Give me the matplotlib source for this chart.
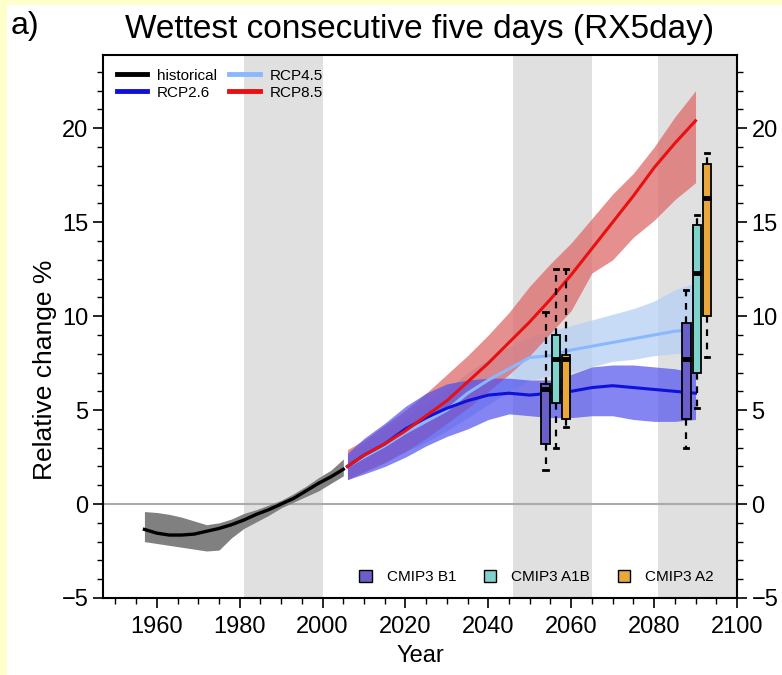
import numpy as np
import matplotlib.pyplot as plt
from matplotlib.patches import Rectangle, Patch
from matplotlib.lines import Line2D

plt.rcParams['font.family'] = ['Liberation Sans', 'DejaVu Sans']

# historical ensemble (20-yr running mean, % change)
hist_years = [1957, 1960, 1963, 1966, 1969, 1972, 1975, 1978, 1981, 1984, 1987, 1990, 1993, 1996, 1999, 2002, 2005]
hist_mean = [-1.35, -1.55, -1.65, -1.65, -1.6, -1.45, -1.3, -1.1, -0.85, -0.55, -0.3, 0.0, 0.3, 0.7, 1.1, 1.45, 1.85]
hist_lo = [-2.0, -2.1, -2.2, -2.3, -2.4, -2.5, -2.45, -1.8, -1.3, -0.95, -0.6, -0.2, 0.1, 0.4, 0.7, 1.1, 1.5]
hist_hi = [-0.4, -0.45, -0.55, -0.7, -0.9, -1.1, -1.0, -0.8, -0.5, -0.3, -0.05, 0.2, 0.55, 0.95, 1.4, 1.8, 2.4]

# scenario ensembles
fut_years = [2006, 2010, 2015, 2020, 2025, 2030, 2035, 2040, 2045, 2050, 2055, 2060, 2065, 2070, 2075, 2080, 2085, 2090]

rcp26_mean = [2.0, 2.6, 3.2, 4.0, 4.6, 5.1, 5.5, 5.8, 5.9, 5.8, 5.9, 6.0, 6.2, 6.3, 6.2, 6.1, 6.0, 5.9]
rcp26_lo = [1.3, 1.6, 2.0, 2.5, 3.1, 3.6, 4.0, 4.5, 4.8, 4.7, 4.6, 4.6, 4.7, 4.7, 4.5, 4.4, 4.4, 4.5]
rcp26_hi = [2.7, 3.5, 4.3, 5.2, 5.9, 6.4, 6.6, 6.7, 6.7, 6.6, 6.6, 6.9, 7.3, 7.4, 7.4, 7.3, 7.2, 7.0]

rcp45_mean = [2.0, 2.5, 3.1, 3.8, 4.4, 5.0, 5.9, 6.6, 7.2, 7.8, 7.9, 8.2, 8.4, 8.6, 8.8, 9.0, 9.2, 9.3]
rcp45_lo = [1.4, 1.8, 2.3, 2.8, 3.3, 3.9, 4.6, 5.3, 6.0, 6.6, 6.8, 7.0, 7.3, 7.6, 7.7, 7.9, 8.0, 8.1]
rcp45_hi = [2.6, 3.2, 4.0, 4.7, 5.4, 6.1, 7.0, 7.7, 8.4, 8.9, 9.2, 9.5, 9.8, 10.1, 10.4, 10.8, 11.4, 11.8]

rcp85_mean = [2.0, 2.6, 3.2, 3.9, 4.7, 5.5, 6.5, 7.5, 8.6, 9.7, 10.9, 12.2, 13.6, 15.0, 16.4, 17.9, 19.2, 20.4]
rcp85_lo = [1.3, 1.7, 2.2, 2.8, 3.5, 4.3, 5.1, 6.0, 6.9, 7.9, 9.1, 10.3, 12.3, 13.0, 14.2, 15.1, 16.2, 17.1]
rcp85_hi = [2.9, 3.4, 4.2, 5.0, 5.9, 6.9, 7.9, 9.0, 10.2, 11.6, 12.8, 13.9, 15.2, 16.5, 17.6, 19.0, 20.6, 22.0]

# CMIP3 box statistics: whislo, q1, median, q3, whishi
cmip3_names = ['CMIP3 B1', 'CMIP3 A1B', 'CMIP3 A2']
cmip3_colors = ['#6a5fc8', '#7fd3cc', '#e8a83a']
pos_mid = [2053.8, 2056.3, 2058.8]
pos_end = [2087.8, 2090.3, 2092.8]
stats_mid = [
    [1.8, 3.2, 6.1, 6.4, 10.2],
    [3.0, 5.4, 7.7, 9.0, 12.5],
    [4.1, 4.5, 7.7, 7.95, 12.5],
]
stats_end = [
    [3.0, 4.5, 7.7, 9.65, 11.4],
    [5.1, 7.0, 12.3, 14.85, 15.4],
    [7.8, 10.0, 16.3, 18.1, 18.7],
]

shade_periods = [(1981, 2000), (2046, 2065), (2081, 2100)]

fig = plt.figure(figsize=(7.82, 6.75), dpi=100, facecolor='#ffffcc')
fig.patches.append(Rectangle((7 / 782, 0), 1, 1 - 5 / 675, transform=fig.transFigure,
                             facecolor='white', edgecolor='none', zorder=-10))
ax = fig.add_axes([0.1317, 0.1141, 0.8107, 0.8044])

for a, b in shade_periods:
    ax.axvspan(a, b, color='#e0e0e0', lw=0, zorder=0)
ax.axhline(0, color='#aaaaaa', lw=1.5, zorder=1)

ax.fill_between(hist_years, hist_lo, hist_hi, color='#808080', lw=0, zorder=2)
ax.fill_between(fut_years, rcp45_lo, rcp45_hi, color='#b9d2f5', alpha=0.8, lw=0, zorder=2)
ax.fill_between(fut_years, rcp85_lo, rcp85_hi, color='#dd6a6a', alpha=0.75, lw=0, zorder=2)
ax.fill_between(fut_years, rcp26_lo, rcp26_hi, color='#5050ee', alpha=0.7, lw=0, zorder=2)

ax.plot(hist_years, hist_mean, color='black', lw=2.4, zorder=3)
ax.plot(fut_years, rcp45_mean, color='#8ab8ff', lw=2.2, zorder=3)
ax.plot(fut_years, rcp26_mean, color='#1010dd', lw=2.2, zorder=3)
ax.plot(fut_years, rcp85_mean, color='#e81010', lw=2.2, zorder=3)

# CMIP3 boxes
for pos, stats in [(pos_mid, stats_mid), (pos_end, stats_end)]:
    bxp = [dict(whislo=s[0], q1=s[1], med=s[2], q3=s[3], whishi=s[4], fliers=[]) for s in stats]
    bp = ax.bxp(bxp, positions=pos, widths=2.0, patch_artist=True, manage_ticks=False,
                showfliers=False,
                whiskerprops=dict(color='black', lw=1.6, ls=(0, (3, 3))),
                capprops=dict(color='black', lw=2),
                medianprops=dict(color='black', lw=3.5),
                boxprops=dict(edgecolor='black', lw=1.3))
    for patch, c in zip(bp['boxes'], cmip3_colors):
        patch.set_facecolor(c)
    for k in bp:
        for art in bp[k]:
            art.set_zorder(4)

ax.set_xlim(1947, 2100)
ax.set_ylim(-5, 23.9)
ax.set_xticks(range(1960, 2101, 20))
ax.set_xticks(range(1950, 2101, 5), minor=True)
ax.set_yticks(range(-5, 21, 5))
ax.set_yticks(range(-5, 24, 1), minor=True)
ax.tick_params(axis='both', which='major', length=7, width=1.2, labelsize=17, direction='out')
ax.tick_params(axis='both', which='minor', length=4, width=1, direction='out')
ax.tick_params(axis='y', which='both', right=True, labelright=True)
ax.tick_params(axis='x', pad=6)
for s in ax.spines.values():
    s.set_linewidth(1.5)

ax.set_xlabel('Year', fontsize=17, labelpad=5)
ax.set_ylabel('Relative change %', fontsize=19)
ax.yaxis.set_label_coords(-0.072, 0.42)
ax.set_title('Wettest consecutive five days (RX5day)', fontsize=24, pad=12)
fig.text(0.014, 0.962, 'a)', fontsize=23, va='center')

line_handles = [Line2D([], [], color='black', lw=3.5),
                Line2D([], [], color='#1010dd', lw=3.5),
                Line2D([], [], color='#8ab8ff', lw=3.5),
                Line2D([], [], color='#e81010', lw=3.5)]
leg1 = ax.legend(line_handles, ['historical', 'RCP2.6', 'RCP4.5', 'RCP8.5'], ncol=2,
                 loc='upper left', bbox_to_anchor=(0.0, 1.0), frameon=False, fontsize=11,
                 handlelength=2.0, labelspacing=0.2, columnspacing=0.8, handletextpad=0.65)
ax.add_artist(leg1)

box_handles = [Patch(facecolor=c, edgecolor='black', lw=1) for c in cmip3_colors]
ax.legend(box_handles, cmip3_names, ncol=3, loc='lower right', bbox_to_anchor=(0.985, 0.0),
          frameon=False, fontsize=11, handlelength=0.8, handleheight=0.8,
          columnspacing=1.8, handletextpad=1.0)

fig.savefig('out.png', dpi=100, facecolor=fig.get_facecolor())
